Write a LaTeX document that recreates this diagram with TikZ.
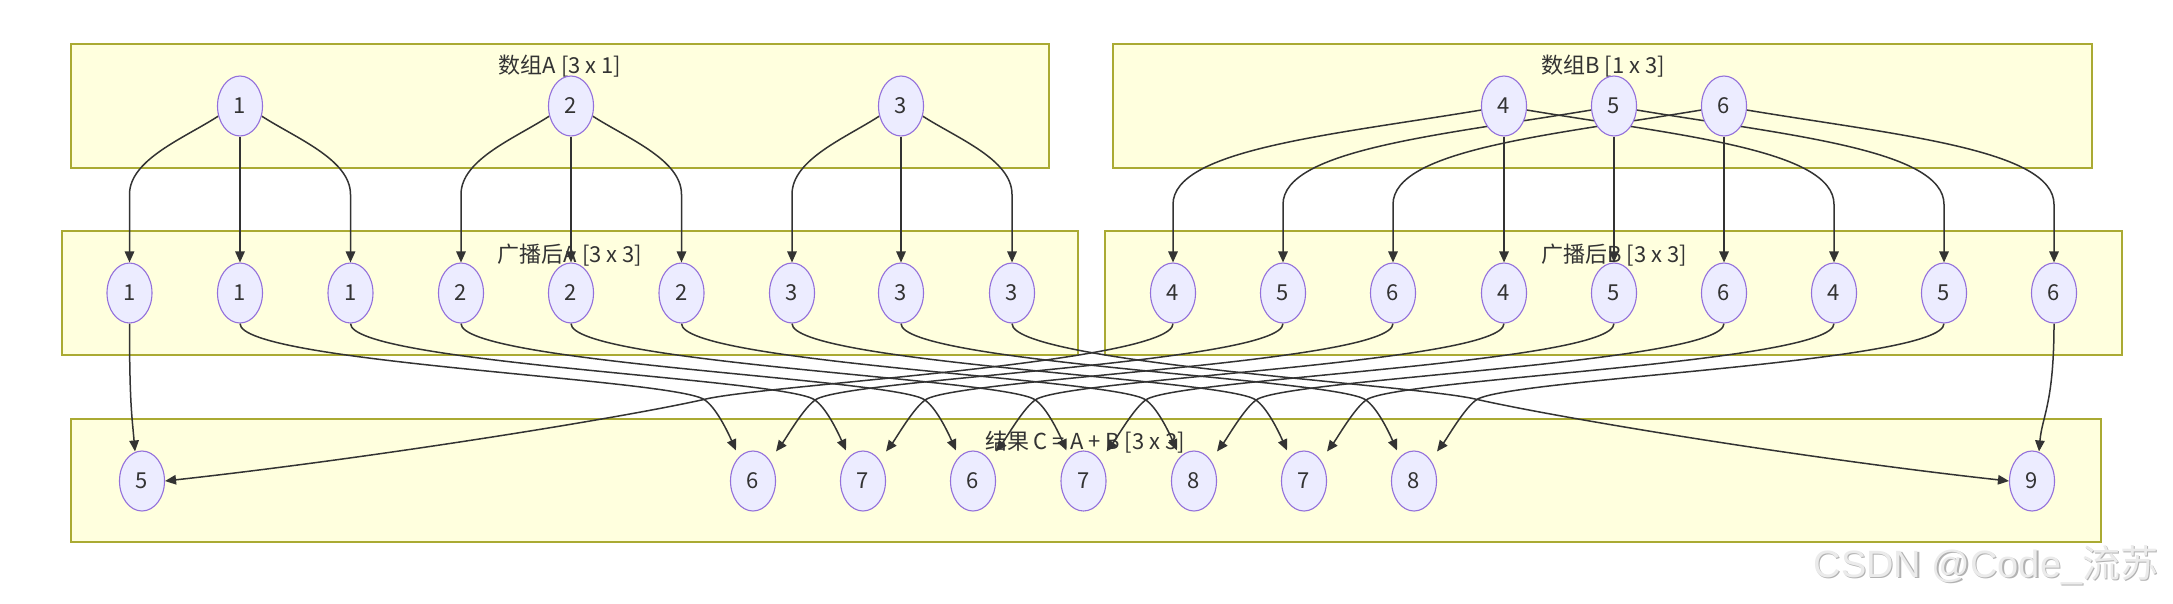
\documentclass[tikz,border=0pt]{standalone}
\usepackage{fontspec}
\setmainfont{Noto Sans CJK SC}
\newfontfamily\wmfont{Liberation Sans}
\usetikzlibrary{arrows.meta,shapes.geometric,calc}
\definecolor{boxfill}{HTML}{FFFFDE}
\definecolor{boxline}{HTML}{AAAA33}
\definecolor{nodefill}{HTML}{ECECFF}
\definecolor{nodeline}{HTML}{9370DB}
\definecolor{edgec}{HTML}{333333}
\definecolor{txt}{HTML}{333333}
\pgfdeclarelayer{bg}
\pgfdeclarelayer{edges}
\pgfsetlayers{bg,edges,main}
\begin{document}
\begin{tikzpicture}[x=1pt,y=-1pt,
  val/.style={ellipse, draw=nodeline, fill=nodefill, line width=1.1pt,
    minimum width=45pt, minimum height=60pt, inner sep=0pt,
    font=\fontsize{22}{26}\selectfont, text=txt},
  grp/.style={draw=boxline, fill=boxfill, line width=1.4pt},
  ttl/.style={font=\fontsize{22}{26}\selectfont, text=txt, inner sep=0pt},
  edge/.style={draw=edgec, line width=1.5pt, -{Triangle[length=11pt,width=9.5pt]}},
  wm/.style={font=\fontsize{38}{44}\selectfont, inner sep=0pt}
]
\useasboundingbox (0,0) rectangle (2173,603);

% groups
\begin{pgfonlayer}{bg}
\fill[white] (0,0) rectangle (2173,603);
\draw[grp] (71,44) rectangle (1049,168);
\draw[grp] (1113,44) rectangle (2092,168);
\draw[grp] (62,231) rectangle (1078,355);
\draw[grp] (1105,231) rectangle (2122,355);
\draw[grp] (71,419) rectangle (2101,542);
\node[ttl] (tA) at (560,66) {数组A [3 x 1]};
\node[ttl] (tB) at (1603,66) {数组B [1 x 3]};
\node[ttl] (tP) at (570,255) {广播后A [3 x 3]};
\node[ttl] (tQ) at (1614,255) {广播后B [3 x 3]};
\node[ttl] (tC) at (1085,442) {结果 C = A + B [3 x 3]};
\node[wm, text=gray!60] (wms) at (1987.3,566.3) {{\wmfont CSDN @Code\_}流苏};
\node[wm, text=gray!16] (wm) at (1986,565) {{\wmfont CSDN @Code\_}流苏};
\end{pgfonlayer}

% nodes
\node[val] (A1) at (240,106) {1};
\node[val] (A2) at (571,106) {2};
\node[val] (A3) at (901,106) {3};
\node[val] (B1) at (1504,106) {4};
\node[val] (B2) at (1614,106) {5};
\node[val] (B3) at (1724,106) {6};
\foreach \i/\x/\v in {1/129.5/1,2/240/1,3/350.5/1,4/461/2,5/571/2,6/681.5/2,7/792/3,8/901/3,9/1012/3}
  \node[val] (P\i) at (\x,293) {\v};
\foreach \i/\x/\v in {1/1173/4,2/1283/5,3/1393/6,4/1504/4,5/1614/5,6/1724/6,7/1834/4,8/1944/5,9/2054/6}
  \node[val] (Q\i) at (\x,293) {\v};
\foreach \i/\x/\v in {1/142/5,2/753/6,3/863/7,4/973/6,5/1083.5/7,6/1194/8,7/1304/7,8/1414/8,9/2032/9}
  \node[val] (C\i) at (\x,481) {\v};

% edges
\begin{pgfonlayer}{edges}
\foreach \k/\l/\m/\r in {A1/P1/P2/P3, A2/P4/P5/P6, A3/P7/P8/P9} {
  \draw[edge] (\k.205) .. controls +(-34,22) and +(0,-35) .. ($(\l.north)+(0,-68)$) -- (\l.north);
  \draw[edge] (\k) -- (\m);
  \draw[edge] (\k.335) .. controls +(34,22) and +(0,-35) .. ($(\r.north)+(0,-68)$) -- (\r.north);
}
\foreach \k/\l/\m/\r in {B1/Q1/Q4/Q7, B2/Q2/Q5/Q8, B3/Q3/Q6/Q9} {
  \draw[edge] (\k.190) .. controls +(-150,25) and +(0,-55) .. ($(\l.north)+(0,-58)$) -- (\l.north);
  \draw[edge] (\k) -- (\m);
  \draw[edge] (\k.350) .. controls +(150,25) and +(0,-55) .. ($(\r.north)+(0,-58)$) -- (\r.north);
}
\foreach \i in {2,...,8} {
  \draw[edge] (P\i.south) .. controls +(0,39) and +(-34,-21) .. ($(C\i.north)+(-49,-51)$)
     .. controls +(12,7.5) and +(-8,-18) .. ($(C\i.north)+(-17,0)$);
  \draw[edge] (Q\i.south) .. controls +(0,39) and +(34,-21) .. ($(C\i.north)+(63,-51)$)
     .. controls +(-12,7.5) and +(10,-13) .. ($(C\i.north)+(23,1)$);
}
\draw[edge] (P1.south) .. controls +(0,80) and +(-3,-35) .. ($(C1.north)+(-7,1)$);
\draw[edge] (Q9.south) .. controls +(0,80) and +(3,-35) .. ($(C9.north)+(7,1)$);
\draw[edge] (Q1.south) .. controls +(0,39) and +(60,-15) .. ($(C2.north)+(-49,-51)$)
   .. controls +(-90,20) and +(200,-22) .. (C1.east);
\draw[edge] (P9.south) .. controls +(0,39) and +(-60,-15) .. ($(C8.north)+(63,-51)$)
   .. controls +(90,20) and +(-200,-22) .. (C9.west);
\end{pgfonlayer}
\end{tikzpicture}
\end{document}
